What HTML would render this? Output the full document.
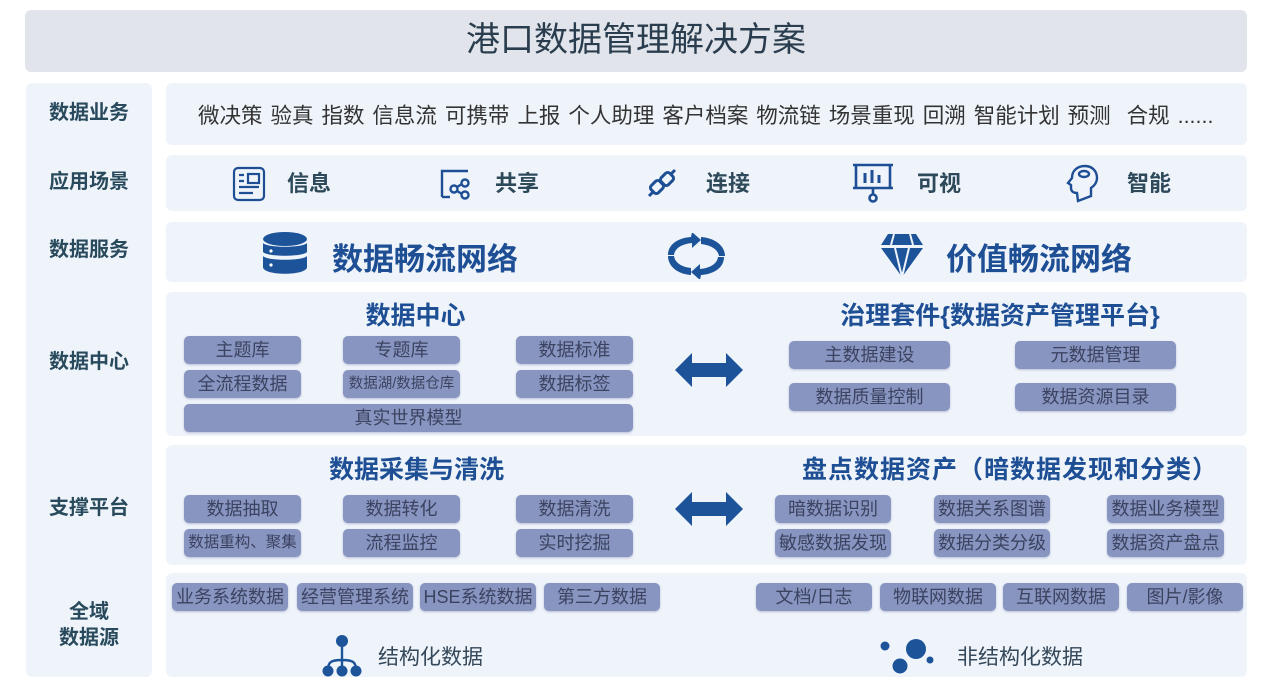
<!DOCTYPE html>
<html><head><meta charset="utf-8"><style>
*{margin:0;padding:0;box-sizing:border-box}
body{width:1280px;height:687px;background:#fff;position:relative;overflow:hidden;font-family:"Liberation Sans","Noto Sans CJK SC",sans-serif}
.a{position:absolute}
.p{position:absolute;background:#eff4fb;border-radius:6px}
.lab{position:absolute;left:26px;width:126px;text-align:center;font-weight:bold;font-size:20px;color:#284a5c;line-height:26px}
.b{position:absolute;background:#8995c1;border-radius:5px;color:#3b4360;font-size:18px;text-align:center;line-height:28px;height:28px;box-shadow:0 1px 2px rgba(80,90,140,.35);white-space:nowrap;overflow:hidden}
.h{position:absolute;font-weight:bold;color:#1e4f95;font-size:25px;white-space:nowrap;text-align:center}
.s{position:absolute;font-weight:bold;color:#2e4a5a;font-size:22px}
</style></head><body>
<div class="p" style="left:25px;top:10px;width:1222px;height:62px;background:#e1e5eb"></div>
<div class="a" style="left:25px;top:17px;width:1222px;text-align:center;font-size:34px;color:#2a3d4e;line-height:46px">港口数据管理解决方案</div>
<div class="p" style="left:26px;top:83px;width:126px;height:594px"></div>
<div class="lab" style="top:100px">数据业务</div>
<div class="lab" style="top:169px">应用场景</div>
<div class="lab" style="top:237px">数据服务</div>
<div class="lab" style="top:349px">数据中心</div>
<div class="lab" style="top:495px">支撑平台</div>
<div class="lab" style="top:599px">全域<br>数据源</div>

<div class="p" style="left:166px;top:83px;width:1081px;height:62px"></div>
<div class="a" style="left:198px;top:99px;font-size:21.5px;color:#333;white-space:nowrap;word-spacing:2px">微决策 验真 指数 信息流 可携带 上报 个人助理 客户档案 物流链 场景重现 回溯 智能计划 预测&nbsp; 合规 ......</div>

<div class="p" style="left:166px;top:155px;width:1081px;height:56px"></div>
<svg class="a" style="left:232px;top:166px" width="34" height="36" viewBox="0 0 34 36" fill="none" stroke="#1e4f95" stroke-width="2.2"><rect x="2" y="2" width="30" height="32" rx="4"/><path d="M7 9h5M7 15h5M7 21h20M7 27h14"/><rect x="16" y="8" width="11" height="9"/></svg>
<div class="s" style="left:287px;top:166px">信息</div>
<svg class="a" style="left:440px;top:167px" width="34" height="34" viewBox="0 0 34 34" fill="none" stroke="#1e4f95" stroke-width="2.4"><path d="M2 30V4h26"/><path d="M2 30h8"/><circle cx="14" cy="22" r="3.5"/><circle cx="25" cy="16" r="3.5"/><circle cx="25" cy="28" r="3.5"/><path d="M17 20l5-3M17 24l5 3"/></svg>
<div class="s" style="left:495px;top:166px">共享</div>
<svg class="a" style="left:645px;top:166px" width="34" height="34" viewBox="0 0 34 34" fill="none" stroke="#1e4f95" stroke-width="3"><path d="M4 30l5-5M30 4l-5 5"/><rect x="7" y="15" width="10" height="12" rx="3" transform="rotate(45 12 21)"/><rect x="17" y="7" width="10" height="12" rx="3" transform="rotate(45 22 13)"/></svg>
<div class="s" style="left:706px;top:166px">连接</div>
<svg class="a" style="left:852px;top:162px" width="42" height="42" viewBox="0 0 42 42" fill="none" stroke="#1e4f95" stroke-width="2.6"><path d="M1 3h40M4 3v23h34V3M1 26h40"/><path d="M13 11v10M20 8v13M27 13v8" stroke-width="3"/><path d="M21 26v6"/><circle cx="21" cy="36" r="3.5"/></svg>
<div class="s" style="left:917px;top:166px">可视</div>
<svg class="a" style="left:1066px;top:164px" width="34" height="40" viewBox="0 0 34 40" fill="none" stroke="#1e4f95" stroke-width="2.4"><path d="M12 37l-1-8c-4 0-6-2-6-5v-3l-3-2 4-5c0-8 6-12 13-12s12 5 12 12c0 5-3 8-6 10v8z"/><ellipse cx="18" cy="10" rx="5" ry="3"/></svg>
<div class="s" style="left:1127px;top:166px">智能</div>

<div class="p" style="left:166px;top:222px;width:1081px;height:60px"></div>
<svg class="a" style="left:262px;top:232px" width="46" height="44" viewBox="0 0 46 44" fill="#1c5399"><ellipse cx="23" cy="7" rx="22" ry="7"/><path d="M1 11c4 5 40 5 44 0v9c-4 5-40 5-44 0z"/><path d="M1 24c4 5 40 5 44 0v11c0 9-44 9-44 0z"/><circle cx="9" cy="19" r="1.6" fill="#fff"/><circle cx="9" cy="33" r="1.6" fill="#fff"/></svg>
<div class="h" style="left:332px;top:234px;font-size:31px">数据畅流网络</div>
<svg class="a" style="left:665px;top:233px" width="62" height="46" viewBox="0 0 62 46" fill="#1c5399"><path d="M26 4C12 5 3 12 3 22h6c1-7 8-11 18-12v5l9-8-9-8z"/><path d="M36 4v7c9 1 17 5 18 12h6c0-10-10-18-24-19z"/><path d="M36 42c14-1 23-8 23-18h-6c-1 7-8 11-18 12v-5l-9 8 9 8z"/><path d="M26 42v-7C17 34 10 30 9 23H3c0 10 9 18 23 19z"/></svg>
<svg class="a" style="left:880px;top:232px" width="44" height="46" viewBox="0 0 44 46" fill="#1c5399"><path d="M8 2h28l7 11H1z"/><path d="M1 16h42L22 45z"/><path d="M14 2l-3 11M30 2l3 11M15 16l7 29M29 16l-7 29" stroke="#eff4fb" stroke-width="2"/></svg>
<div class="h" style="left:946px;top:234px;font-size:31px">价值畅流网络</div>

<div class="p" style="left:166px;top:292px;width:1081px;height:144px"></div>
<div class="h" style="left:184px;width:463px;top:296px">数据中心</div>
<div class="b" style="left:184px;top:336px;width:117px">主题库</div>
<div class="b" style="left:343px;top:336px;width:117px">专题库</div>
<div class="b" style="left:516px;top:336px;width:117px">数据标准</div>
<div class="b" style="left:184px;top:370px;width:117px">全流程数据</div>
<div class="b" style="left:343px;top:370px;width:117px;font-size:14.5px">数据湖/数据仓库</div>
<div class="b" style="left:516px;top:370px;width:117px">数据标签</div>
<div class="b" style="left:184px;top:404px;width:449px">真实世界模型</div>
<div class="h" style="left:800px;width:400px;top:296px">治理套件{数据资产管理平台}</div>
<div class="b" style="left:789px;top:341px;width:161px">主数据建设</div>
<div class="b" style="left:1015px;top:341px;width:161px">元数据管理</div>
<div class="b" style="left:789px;top:383px;width:161px">数据质量控制</div>
<div class="b" style="left:1015px;top:383px;width:161px">数据资源目录</div>
<svg class="a" style="left:674px;top:352px" width="70" height="36" viewBox="0 0 70 36"><path d="M1 18L18 1v10h34V1l17 17-17 17V25H18v10z" fill="#1c5399"/></svg>

<div class="p" style="left:166px;top:445px;width:1081px;height:120px"></div>
<div class="h" style="left:184px;width:465px;top:450px">数据采集与清洗</div>
<div class="b" style="left:184px;top:495px;width:117px">数据抽取</div>
<div class="b" style="left:343px;top:495px;width:117px">数据转化</div>
<div class="b" style="left:516px;top:495px;width:117px">数据清洗</div>
<div class="b" style="left:184px;top:529px;width:117px;font-size:15.5px">数据重构、聚集</div>
<div class="b" style="left:343px;top:529px;width:117px">流程监控</div>
<div class="b" style="left:516px;top:529px;width:117px">实时挖掘</div>
<div class="h" style="left:770px;width:480px;top:450px;letter-spacing:1px">盘点数据资产（暗数据发现和分类）</div>
<div class="b" style="left:775px;top:495px;width:116px">暗数据识别</div>
<div class="b" style="left:934px;top:495px;width:116px">数据关系图谱</div>
<div class="b" style="left:1107px;top:495px;width:117px">数据业务模型</div>
<div class="b" style="left:775px;top:529px;width:116px">敏感数据发现</div>
<div class="b" style="left:934px;top:529px;width:116px">数据分类分级</div>
<div class="b" style="left:1107px;top:529px;width:117px">数据资产盘点</div>
<svg class="a" style="left:674px;top:491px" width="70" height="36" viewBox="0 0 70 36"><path d="M1 18L18 1v10h34V1l17 17-17 17V25H18v10z" fill="#1c5399"/></svg>

<div class="p" style="left:166px;top:573px;width:1081px;height:104px"></div>
<div class="b" style="left:172px;top:583px;width:116px">业务系统数据</div>
<div class="b" style="left:297px;top:583px;width:116px">经营管理系统</div>
<div class="b" style="left:420px;top:583px;width:116px">HSE系统数据</div>
<div class="b" style="left:544px;top:583px;width:116px">第三方数据</div>
<div class="b" style="left:756px;top:583px;width:116px">文档/日志</div>
<div class="b" style="left:880px;top:583px;width:116px">物联网数据</div>
<div class="b" style="left:1003px;top:583px;width:116px">互联网数据</div>
<div class="b" style="left:1127px;top:583px;width:116px">图片/影像</div>
<svg class="a" style="left:321px;top:634px" width="42" height="44" viewBox="0 0 42 44" fill="#1c5399" stroke="#1c5399"><circle cx="21" cy="7" r="6" stroke="none"/><path d="M21 12v16M7 36c0-8 3-10 14-10s14 2 14 10M21 28v8" fill="none" stroke-width="2.4"/><circle cx="7" cy="37" r="5.5" stroke="none"/><circle cx="21" cy="37" r="5.5" stroke="none"/><circle cx="35" cy="37" r="5.5" stroke="none"/></svg>
<div class="a" style="left:378px;top:641px;font-size:21px;color:#34485a">结构化数据</div>
<svg class="a" style="left:880px;top:637px" width="56" height="38" viewBox="0 0 56 38" fill="#1c5399"><circle cx="5" cy="9" r="4.5"/><circle cx="36" cy="12" r="10"/><circle cx="20" cy="29" r="7.5"/><circle cx="50" cy="23" r="3.5"/></svg>
<div class="a" style="left:957px;top:641px;font-size:21px;color:#34485a">非结构化数据</div>
</body></html>
